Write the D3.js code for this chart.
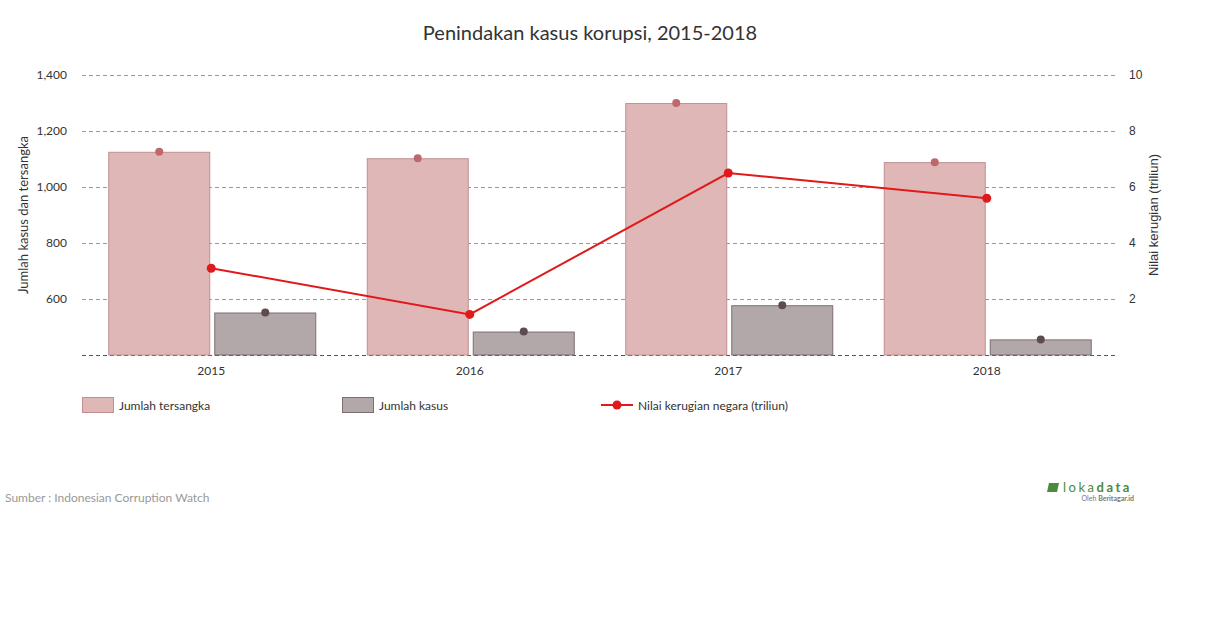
<!DOCTYPE html>
<html><head><meta charset="utf-8">
<script src="https://cdn.jsdelivr.net/npm/d3@7"></script>
<style>body{margin:0;background:#fff;font-family:Lato,sans-serif}</style>
</head><body><svg id="c" width="1210" height="628"></svg>
<script>
const years = ["2015","2016","2017","2018"];
const tersangka = [1124, 1101, 1298, 1087];
const kasus = [550, 482, 576, 454];
const kerugian = [3.1, 1.45, 6.5, 5.6];
const leftTicks = [400, 600, 800, 1000, 1200, 1400];
const rightTicks = [0, 2, 4, 6, 8, 10];

const svg = d3.select("#c");
const L = 82, R = 1116, T = 75, B = 355;
const x = d3.scaleBand().domain(years).range([L, R]);
const yL = d3.scaleLinear().domain([400, 1400]).range([B, T]);
const yR = d3.scaleLinear().domain([0, 10]).range([B, T]);

svg.append("text").attr("x", 590).attr("y", 40).attr("text-anchor", "middle")
  .attr("font-size", 20).attr("fill", "#333").text("Penindakan kasus korupsi, 2015-2018");

// grid
const grid = svg.append("g").attr("transform", `translate(${L},0)`)
  .call(d3.axisLeft(yL).tickValues(leftTicks).tickSize(-(R - L)).tickFormat(""));
grid.select(".domain").remove();
grid.selectAll("line").attr("stroke", d => d === 400 ? "#555" : "#999")
  .attr("stroke-dasharray", "4,3").attr("shape-rendering", "crispEdges");

// left tick labels
const la = svg.append("g").attr("transform", `translate(${L - 12},0)`)
  .call(d3.axisLeft(yL).tickValues(leftTicks.filter(d => d > 400)).tickSize(0).tickFormat(d3.format(",")));
la.select(".domain").remove();
la.selectAll("text").attr("font-family", "Lato").attr("font-size", 12).attr("fill", "#333");

const ra = svg.append("g").attr("transform", `translate(${R + 10},0)`)
  .call(d3.axisRight(yR).tickValues(rightTicks.filter(d => d > 0)).tickSize(0));
ra.select(".domain").remove();
ra.selectAll("text").attr("font-family", "Liberation Sans, Arial").attr("font-size", 12).attr("fill", "#333");

svg.append("text").attr("transform", "translate(28,215) rotate(-90)").attr("text-anchor", "middle")
  .attr("font-size", 13).attr("fill", "#333").text("Jumlah kasus dan tersangka");
svg.append("text").attr("transform", "translate(1158,215) rotate(-90)").attr("text-anchor", "middle")
  .attr("font-family", "Liberation Sans, Arial").attr("font-size", 13).attr("fill", "#333").text("Nilai kerugian (triliun)");

// x labels
const xa = svg.append("g").attr("transform", `translate(0,${B + 8})`)
  .call(d3.axisBottom(x).tickSize(0));
xa.select(".domain").remove();
xa.selectAll("text").attr("font-family", "Lato").attr("font-size", 12).attr("fill", "#333");

const bw = 101, gap = 5;
const off = (x.bandwidth() - (2 * bw + gap)) / 2 + 1;

svg.append("g").selectAll("rect").data(years).join("rect")
  .attr("x", d => x(d) + off).attr("y", (d, i) => yL(tersangka[i]))
  .attr("width", bw).attr("height", (d, i) => B - yL(tersangka[i]))
  .attr("fill", "#e0b7b7").attr("stroke", "#c28e90").attr("stroke-width", 1);
svg.append("g").selectAll("rect").data(years).join("rect")
  .attr("x", d => x(d) + off + bw + gap).attr("y", (d, i) => yL(kasus[i]))
  .attr("width", bw).attr("height", (d, i) => B - yL(kasus[i]))
  .attr("fill", "#b3a8a9").attr("stroke", "#7d6e70").attr("stroke-width", 1);

svg.append("g").selectAll("circle").data(years).join("circle")
  .attr("cx", d => x(d) + off + bw / 2).attr("cy", (d, i) => yL(tersangka[i]) - 0.5)
  .attr("r", 4).attr("fill", "#c0676b");
svg.append("g").selectAll("circle").data(years).join("circle")
  .attr("cx", d => x(d) + off + bw + gap + bw / 2).attr("cy", (d, i) => yL(kasus[i]) - 0.5)
  .attr("r", 4).attr("fill", "#5e4b50");

// line
const cx = d => x(d) + x.bandwidth() / 2;
svg.append("path").datum(years)
  .attr("d", d3.line().x(cx).y((d, i) => yR(kerugian[i])))
  .attr("fill", "none").attr("stroke", "#e0191b").attr("stroke-width", 2);
svg.append("g").selectAll("circle").data(years).join("circle")
  .attr("cx", cx).attr("cy", (d, i) => yR(kerugian[i])).attr("r", 4.5).attr("fill", "#e0191b");

// legend
const lg = svg.append("g").attr("font-size", 12).attr("fill", "#333");
lg.append("rect").attr("x", 82.5).attr("y", 397.5).attr("width", 31).attr("height", 15)
  .attr("fill", "#e0b7b7").attr("stroke", "#c28e90");
lg.append("text").attr("x", 119).attr("y", 410).attr("fill", "#333").text("Jumlah tersangka");
lg.append("rect").attr("x", 342.5).attr("y", 397.5).attr("width", 31).attr("height", 15)
  .attr("fill", "#b3a8a9").attr("stroke", "#7d6e70");
lg.append("text").attr("x", 379).attr("y", 410).attr("fill", "#333").text("Jumlah kasus");
lg.append("line").attr("x1", 601).attr("x2", 633).attr("y1", 405).attr("y2", 405)
  .attr("stroke", "#e0191b").attr("stroke-width", 2);
lg.append("circle").attr("cx", 617).attr("cy", 405).attr("r", 4.5).attr("fill", "#e0191b");
lg.append("text").attr("x", 638).attr("y", 410).attr("fill", "#333").text("Nilai kerugian negara (triliun)");

svg.append("text").attr("x", 5).attr("y", 502).attr("font-size", 12).attr("fill", "#999")
  .text("Sumber : Indonesian Corruption Watch");

// logo
const lgo = svg.append("g");
lgo.append("path").attr("d", "M1049,483 h10 l-2,9 h-10 z").attr("fill", "#4b8b3b");
lgo.append("text").attr("x", 1063).attr("y", 492).attr("font-size", 13).attr("fill", "#4b8b3b")
  .attr("letter-spacing", 2.5).text("loka").append("tspan").attr("font-weight", "bold").text("data");
lgo.append("text").attr("x", 1134).attr("y", 501).attr("text-anchor", "end").attr("font-size", 7)
  .attr("fill", "#777").text("Oleh ").append("tspan").attr("font-weight", "bold").text("Beritagar.id");
</script></body></html>
